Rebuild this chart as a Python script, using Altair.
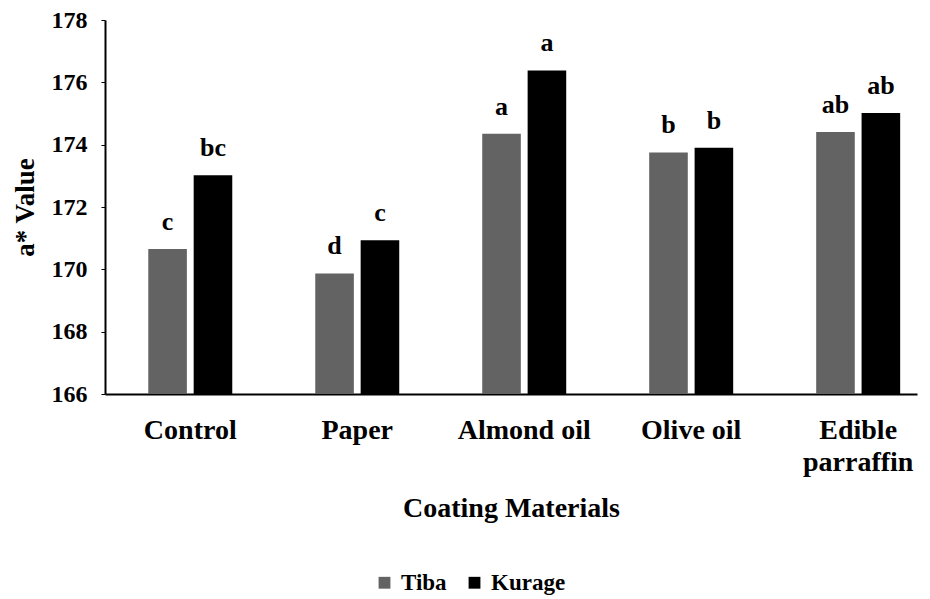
import altair as alt
import pandas as pd

categories = ["Control", "Paper", "Almond oil", "Olive oil", "Edible parraffin"]
series = ["Tiba", "Kurage"]
tiba_values = [170.65, 169.87, 174.35, 173.75, 174.41]
kurage_values = [173.02, 170.93, 176.38, 173.90, 175.02]
tiba_letters = ["c", "d", "a", "b", "ab"]
kurage_letters = ["bc", "c", "a", "b", "ab"]
y_ticks = [166, 168, 170, 172, 174, 176, 178]
colors = ["#636363", "#000000"]

rows = []
for i, c in enumerate(categories):
    rows.append({"cat": c, "series": "Tiba", "value": tiba_values[i], "letter": tiba_letters[i]})
    rows.append({"cat": c, "series": "Kurage", "value": kurage_values[i], "letter": kurage_letters[i]})
df = pd.DataFrame(rows)

FONT = "Liberation Serif"

x_enc = alt.X(
    "cat:N",
    sort=categories,
    title="Coating Materials",
    scale=alt.Scale(paddingInner=0.497, paddingOuter=0.18, align=0.72),
    axis=alt.Axis(
        labelAngle=0,
        ticks=False,
        labelPadding=22,
        labelFontSize=28,
        labelFont=FONT,
        labelFontWeight="bold",
        labelColor="#000",
        labelLineHeight=32,
        labelBaseline="top",
        labelLimit=300,
        labelExpr="datum.label == 'Edible parraffin' ? ['Edible', 'parraffin'] : datum.label",
        titleFont=FONT,
        titleFontSize=28,
        titleFontWeight="bold",
        titleColor="#000",
        titlePadding=18,
        domainColor="#000",
        domainWidth=2,
    ),
)

xoff = alt.XOffset("series:N", sort=series, scale=alt.Scale(paddingInner=0.15, paddingOuter=0))

y_scale = alt.Scale(domain=[166, 178], nice=False, zero=False)

bars = alt.Chart(df).mark_bar().encode(
    x=x_enc,
    xOffset=xoff,
    y=alt.Y(
        "value:Q",
        scale=y_scale,
        title="a* Value",
        axis=alt.Axis(
            values=y_ticks,
            grid=False,
            tickSize=4,
            tickColor="#000",
            labelPadding=14,
            labelFontSize=24,
            labelFont=FONT,
            labelFontWeight="bold",
            labelColor="#000",
            titleFont=FONT,
            titleFontSize=27,
            titleFontWeight="bold",
            titleColor="#000",
            titlePadding=12,
            domainColor="#000",
            domainWidth=2,
        ),
    ),
    y2=alt.datum(166),
    color=alt.Color(
        "series:N",
        sort=series,
        scale=alt.Scale(domain=series, range=colors),
        legend=alt.Legend(
            title=None,
            orient="none",
            direction="horizontal",
            legendX=268,
            legendY=551,
            symbolType="square",
            symbolSize=140,
            symbolStrokeWidth=0,
            labelFont=FONT,
            labelFontSize=23,
            labelFontWeight="bold",
            labelColor="#000",
            columnPadding=16,
            labelOffset=5,
        ),
    ),
)

labels = alt.Chart(df).mark_text(
    baseline="alphabetic", dy=-19, font=FONT, fontSize=26, fontWeight="bold", color="#000"
).encode(
    x=alt.X("cat:N", sort=categories),
    xOffset=xoff,
    y=alt.Y("value:Q", scale=y_scale),
    text="letter:N",
)

chart = (
    alt.layer(bars, labels)
    .properties(
        width=812,
        height=374,
        padding={"left": 97, "top": 12, "right": 2, "bottom": 205},
        autosize=alt.AutoSizeParams(type="none"),
        background="white",
    )
    .configure_view(stroke=None)
)

chart.save("out.html", embed_options={"renderer": "svg", "actions": False})
